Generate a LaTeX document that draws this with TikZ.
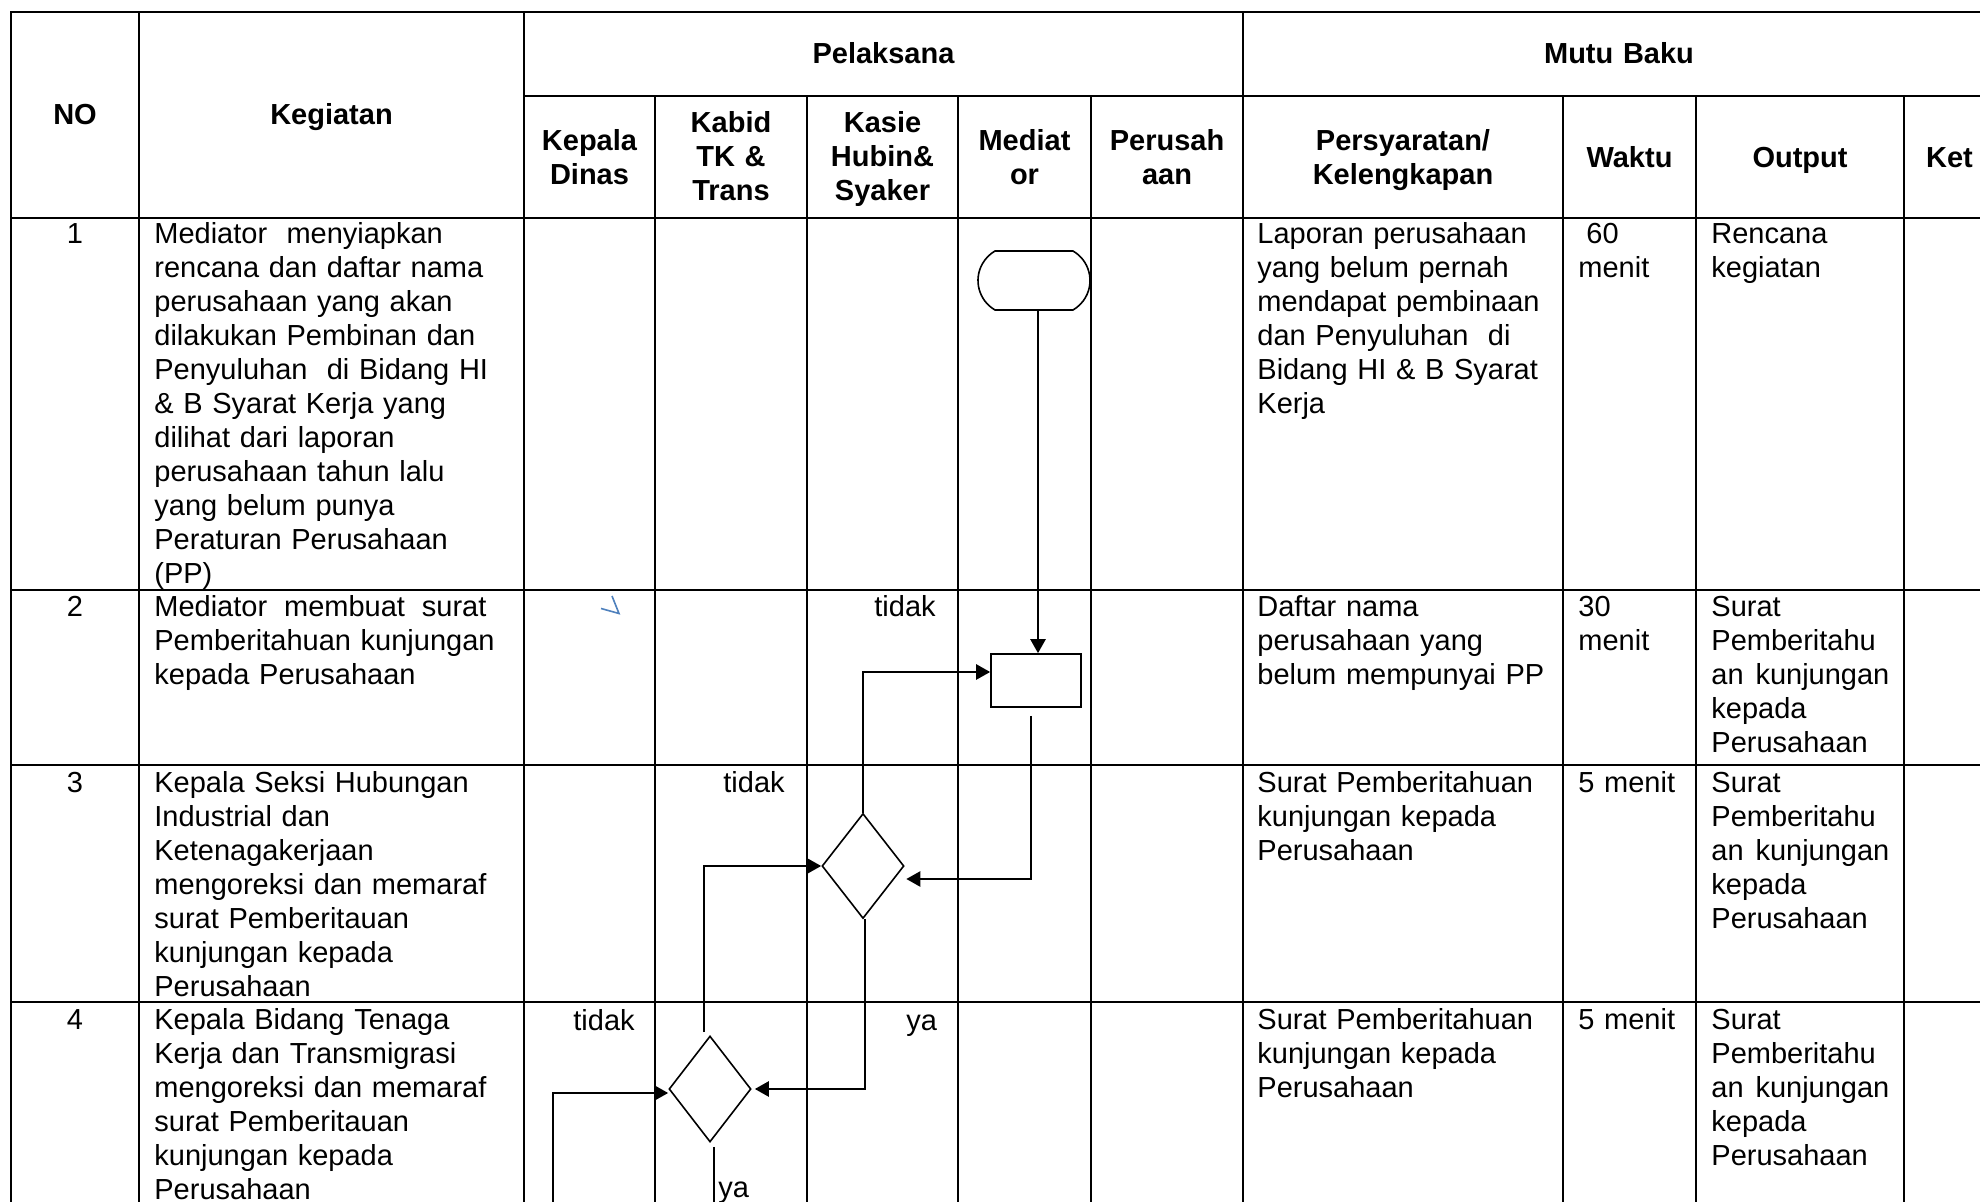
\documentclass[tikz,border=0pt]{standalone}
\usepackage{fontspec}
\setmainfont{Liberation Sans}
\usetikzlibrary{arrows.meta,shapes.geometric,shapes.misc}
\definecolor{markblue}{RGB}{79,129,189}
\begin{document}
\begin{tikzpicture}[x=0.5pt,y=-0.5pt,
  tline/.style={line width=1.3pt},
  hd/.style={anchor=base,inner sep=0pt,text width=100pt,align=center,font=\fontsize{14.5pt}{17pt}\selectfont\bfseries},
  bd/.style={anchor=base west,inner sep=0pt,text width=200pt,align=left,font=\fontsize{14.5pt}{17pt}\selectfont},
  num/.style={anchor=base,inner sep=0pt,font=\fontsize{14.5pt}{17pt}\selectfont},
  lbl/.style={anchor=base west,inner sep=0pt,font=\fontsize{14.5pt}{17pt}\selectfont},
  conn/.style={line width=1.2pt,-{Triangle[length=7pt,width=7.5pt]}},
  cline/.style={line width=1.2pt},
  dia/.style={diamond,draw,line width=0.8pt,inner sep=0pt,minimum width=41pt,minimum height=52.5pt},
]
\clip (0,0) rectangle (1980,1202);
\fill[white] (0,0) rectangle (1980,1202);

% ---------- table grid ----------
\draw[tline] (11,1202) -- (11,12) -- (1980,12);
\draw[tline] (524,96) -- (1980,96);
\foreach \yy in {218,590,765,1002} \draw[tline] (11,\yy) -- (1980,\yy);
\foreach \xx in {139,524,1243} \draw[tline] (\xx,12) -- (\xx,1202);
\foreach \xx in {655,807,958,1091,1563,1696,1904} \draw[tline] (\xx,96) -- (\xx,1202);

% ---------- header ----------
\node[hd] (hno) at (75,125) {NO};
\node[hd] (hkeg) at (331.5,125) {Kegiatan};
\node[hd] (hpel) at (883.5,64) {Pelaksana};
\node[hd] (hmutu) at (1619,64) {Mutu Baku};
\node[hd] (hkd) at (589.5,151) {Kepala\\Dinas};
\node[hd] (hkb) at (731,133) {Kabid\\TK \&\\Trans};
\node[hd] (hks) at (882.5,133) {Kasie\\Hubin\&\\Syaker};
\node[hd] (hmed) at (1024.5,151) {Mediat\\or};
\node[hd] (hper) at (1167,151) {Perusah\\aan};
\node[hd] (hsyarat) at (1403,151) {Persyaratan/\\Kelengkapan};
\node[hd] (hwaktu) at (1629.5,168) {Waktu};
\node[hd] (hout) at (1800,168) {Output};
\node[hd] (hket) at (1949.5,168) {Ket};

% ---------- row 1 ----------
\node[num] (n1) at (75,244) {1};
\node[bd] (k1) at (154,244) {Mediator\ \ menyiapkan\\rencana dan daftar nama\\perusahaan yang akan\\dilakukan Pembinan dan\\Penyuluhan\ \ di Bidang HI\\\& B Syarat Kerja yang\\dilihat dari laporan\\perusahaan tahun lalu\\yang belum punya\\Peraturan Perusahaan\\(PP)};
\node[bd] (p1) at (1257,244) {Laporan perusahaan\\yang belum pernah\\mendapat pembinaan\\dan Penyuluhan\ \ di\\Bidang HI \& B Syarat\\Kerja};
\node[bd] (w1) at (1578,244) {\hspace*{4pt}60\\menit};
\node[bd] (o1) at (1711,244) {Rencana\\kegiatan};

% ---------- row 2 ----------
\node[num] (n2) at (75,617) {2};
\node[bd] (k2) at (154,617) {\leavevmode\hbox to 166pt{Mediator\hfill membuat\hfill surat}\\Pemberitahuan kunjungan\\kepada Perusahaan};
\node[bd] (p2) at (1257,617) {Daftar nama\\perusahaan yang\\belum mempunyai PP};
\node[bd] (w2) at (1578,617) {30\\menit};
\node[bd] (o2) at (1711,617) {Surat\\Pemberitahu\\\leavevmode\hbox to 89pt{an\hfill kunjungan}\\kepada\\Perusahaan};

% ---------- row 3 ----------
\node[num] (n3) at (75,792) {3};
\node[bd] (k3) at (154,792) {Kepala Seksi Hubungan\\Industrial dan\\Ketenagakerjaan\\mengoreksi dan memaraf\\surat Pemberitauan\\kunjungan kepada\\Perusahaan};
\node[bd] (p3) at (1257,792) {Surat Pemberitahuan\\kunjungan kepada\\Perusahaan};
\node[bd] (w3) at (1578,792) {5 menit};
\node[bd] (o3) at (1711,792) {Surat\\Pemberitahu\\\leavevmode\hbox to 89pt{an\hfill kunjungan}\\kepada\\Perusahaan};

% ---------- row 4 ----------
\node[num] (n4) at (75,1029) {4};
\node[bd] (k4) at (154,1029) {Kepala Bidang Tenaga\\Kerja dan Transmigrasi\\mengoreksi dan memaraf\\surat Pemberitauan\\kunjungan kepada\\Perusahaan};
\node[bd] (p4) at (1257,1029) {Surat Pemberitahuan\\kunjungan kepada\\Perusahaan};
\node[bd] (w4) at (1578,1029) {5 menit};
\node[bd] (o4) at (1711,1029) {Surat\\Pemberitahu\\\leavevmode\hbox to 89pt{an\hfill kunjungan}\\kepada\\Perusahaan};

% ---------- flowchart shapes ----------
\node[rounded rectangle,rounded rectangle arc length=120,draw,line width=0.8pt,inner sep=0pt,minimum width=56pt,minimum height=29.5pt] (start) at (1034,280.5) {};
\node[rectangle,draw,line width=0.8pt,inner sep=0pt,minimum width=45pt,minimum height=26.5pt] (rect) at (1036,680.5) {};
\node[dia] (d1) at (863,866) {};
\node[dia,minimum width=41pt,minimum height=53pt] (d2) at (710,1089) {};

% ---------- connectors ----------
\draw[conn] ([xshift=2pt]start.south) -- ([xshift=2pt]start.south |- rect.north);
\draw[conn] (d1.north) |- ([yshift=4.25pt]rect.west);
\draw[conn] ([xshift=-2.5pt,yshift=-4pt]rect.south) |- ([xshift=0.75pt,yshift=-6.5pt]d1.east);
\draw[conn] ([xshift=-3pt,yshift=1.5pt]d2.north) |- (d1.west);
\draw[conn] ([xshift=1pt]d1.south) |- ([xshift=1.5pt]d2.east);
\coordinate (loopin) at (553,1202);
\draw[conn] (loopin) |- ([yshift=-2pt]d2.west);
\coordinate (dout) at (714,1202);
\draw[cline] ([xshift=2pt,yshift=-2pt]d2.south) -- ([xshift=2pt]d2.south |- dout);

% ---------- labels ----------
\node[lbl] (t1) at (874,617) {tidak};
\node[lbl] (t2) at (723,792) {tidak};
\node[lbl] (t3) at (573,1030) {tidak};
\node[lbl] (y1) at (906,1030) {ya};
\node[lbl] (y2) at (718,1197) {ya};

% ---------- blue tick ----------
\draw[markblue,line width=0.8pt] (612,596) -- (619,613.5) -- (601,608.5);
\end{tikzpicture}
\end{document}
